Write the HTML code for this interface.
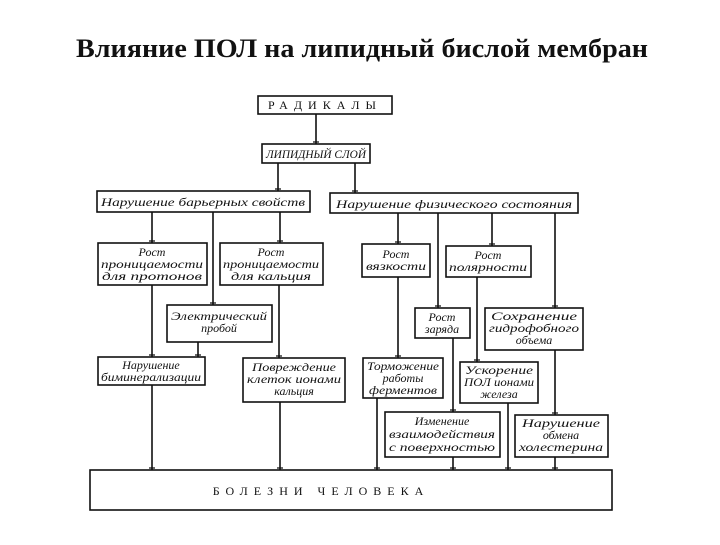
<!DOCTYPE html>
<html><head><meta charset="utf-8"><style>
html,body{margin:0;padding:0;background:#fff}
svg text{font-family:"Liberation Serif",serif;font-style:italic;fill:#111}
</style></head><body>
<svg width="720" height="540" viewBox="0 0 720 540" xmlns="http://www.w3.org/2000/svg">
<text x="76" y="57" textLength="572" lengthAdjust="spacingAndGlyphs" style="font-style:normal;font-weight:bold;font-size:26px">Влияние ПОЛ на липидный бислой мембран</text>
<g fill="none" stroke="#111" stroke-width="1.6">
<rect x="258" y="96" width="134" height="18"/>
<rect x="262" y="144" width="108" height="19"/>
<rect x="97" y="191" width="213" height="21"/>
<rect x="330" y="193" width="248" height="20"/>
<rect x="98" y="243" width="109" height="42"/>
<rect x="220" y="243" width="103" height="42"/>
<rect x="362" y="244" width="68" height="33"/>
<rect x="446" y="246" width="85" height="31"/>
<rect x="167" y="305" width="105" height="37"/>
<rect x="415" y="308" width="55" height="30"/>
<rect x="485" y="308" width="98" height="42"/>
<rect x="98" y="357" width="107" height="28"/>
<rect x="243" y="358" width="102" height="44"/>
<rect x="363" y="358" width="80" height="40"/>
<rect x="460" y="362" width="78" height="41"/>
<rect x="385" y="412" width="115" height="45"/>
<rect x="515" y="415" width="93" height="42"/>
<rect x="90" y="470" width="522" height="40"/>
<path d="M316 114V144 M278 163V191 M355 163V193
M152 212V243 M213 212V305 M280 212V243
M152 285V357 M198 342V357 M279 285V358
M152 385V470 M280 402V470
M398 213V244 M438 213V308 M492 213V246 M555 213V308
M398 277V358 M477 277V362 M453 338V412 M555 350V415
M377 398V470 M508 403V470 M453 457V470 M555 457V470"/>
<path stroke-width="1.2" d="M313 142h6 M275 189h6 M352 191h6 M149 241h6 M210 303h6 M277 241h6 M149 355h6 M195 355h6 M276 356h6 M149 468h6 M277 468h6 M395 242h6 M435 306h6 M489 244h6 M552 306h6 M395 356h6 M474 360h6 M450 410h6 M552 413h6 M374 468h6 M505 468h6 M450 468h6 M552 468h6"/>
</g>
<g font-size="12">
<text x="325" y="109" text-anchor="middle" style="font-style:normal" letter-spacing="6">РАДИКАЛЫ</text>
<text x="316" y="158" text-anchor="middle" textLength="100" lengthAdjust="spacingAndGlyphs">ЛИПИДНЫЙ СЛОЙ</text>
<text x="203" y="206" text-anchor="middle" textLength="204" lengthAdjust="spacingAndGlyphs">Нарушение барьерных свойств</text>
<text x="454" y="208" text-anchor="middle" textLength="236" lengthAdjust="spacingAndGlyphs">Нарушение физического состояния</text>
<text x="152" y="256" text-anchor="middle">Рост</text>
<text x="152" y="268" text-anchor="middle" textLength="102" lengthAdjust="spacingAndGlyphs">проницаемости</text>
<text x="152" y="280" text-anchor="middle" textLength="100" lengthAdjust="spacingAndGlyphs">для протонов</text>
<text x="271" y="256" text-anchor="middle">Рост</text>
<text x="271" y="268" text-anchor="middle" textLength="96" lengthAdjust="spacingAndGlyphs">проницаемости</text>
<text x="271" y="280" text-anchor="middle" textLength="80" lengthAdjust="spacingAndGlyphs">для кальция</text>
<text x="396" y="258" text-anchor="middle">Рост</text>
<text x="396" y="270" text-anchor="middle" textLength="60" lengthAdjust="spacingAndGlyphs">вязкости</text>
<text x="488" y="259" text-anchor="middle">Рост</text>
<text x="488" y="271" text-anchor="middle" textLength="78" lengthAdjust="spacingAndGlyphs">полярности</text>
<text x="219" y="320" text-anchor="middle" textLength="96" lengthAdjust="spacingAndGlyphs">Электрический</text>
<text x="219" y="332" text-anchor="middle">пробой</text>
<text x="442" y="321" text-anchor="middle">Рост</text>
<text x="442" y="333" text-anchor="middle">заряда</text>
<text x="534" y="320" text-anchor="middle" textLength="86" lengthAdjust="spacingAndGlyphs">Сохранение</text>
<text x="534" y="332" text-anchor="middle" textLength="90" lengthAdjust="spacingAndGlyphs">гидрофобного</text>
<text x="534" y="344" text-anchor="middle">объема</text>
<text x="151" y="369" text-anchor="middle">Нарушение</text>
<text x="151" y="381" text-anchor="middle" textLength="100" lengthAdjust="spacingAndGlyphs">биминерализации</text>
<text x="294" y="371" text-anchor="middle" textLength="84" lengthAdjust="spacingAndGlyphs">Повреждение</text>
<text x="294" y="383" text-anchor="middle" textLength="94" lengthAdjust="spacingAndGlyphs">клеток ионами</text>
<text x="294" y="395" text-anchor="middle">кальция</text>
<text x="403" y="370" text-anchor="middle" textLength="72" lengthAdjust="spacingAndGlyphs">Торможение</text>
<text x="403" y="382" text-anchor="middle">работы</text>
<text x="403" y="394" text-anchor="middle" textLength="68" lengthAdjust="spacingAndGlyphs">ферментов</text>
<text x="499" y="374" text-anchor="middle" textLength="68" lengthAdjust="spacingAndGlyphs">Ускорение</text>
<text x="499" y="386" text-anchor="middle" textLength="70" lengthAdjust="spacingAndGlyphs">ПОЛ ионами</text>
<text x="499" y="398" text-anchor="middle">железа</text>
<text x="442" y="425" text-anchor="middle">Изменение</text>
<text x="442" y="438" text-anchor="middle" textLength="106" lengthAdjust="spacingAndGlyphs">взаимодействия</text>
<text x="442" y="451" text-anchor="middle" textLength="106" lengthAdjust="spacingAndGlyphs">с поверхностью</text>
<text x="561" y="427" text-anchor="middle" textLength="78" lengthAdjust="spacingAndGlyphs">Нарушение</text>
<text x="561" y="439" text-anchor="middle">обмена</text>
<text x="561" y="451" text-anchor="middle" textLength="84" lengthAdjust="spacingAndGlyphs">холестерина</text>
<text x="321" y="495" text-anchor="middle" style="font-style:normal" letter-spacing="6">БОЛЕЗНИ ЧЕЛОВЕКА</text>
</g>
</svg>
</body></html>
